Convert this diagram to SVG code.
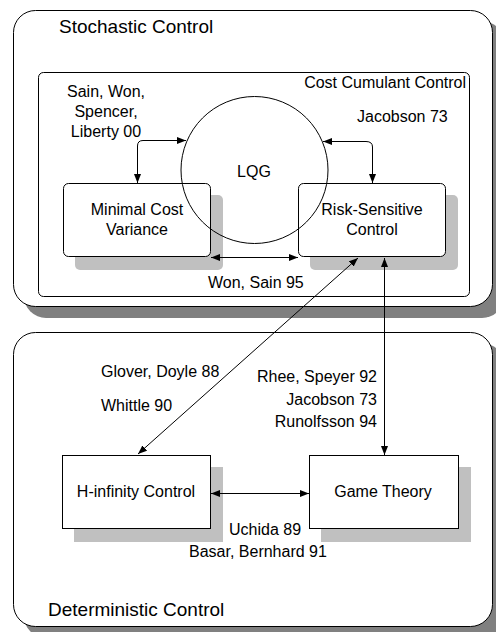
<svg xmlns="http://www.w3.org/2000/svg" width="496" height="632" viewBox="0 0 496 632">
<defs>
<style>
text{font-family:"Liberation Sans",Arial,sans-serif;fill:#000}
.t{font-size:19px}
.l{font-size:16px}
.m{text-anchor:middle}
.e{text-anchor:end}
.box{fill:#fff;stroke:#000;stroke-width:1}
.osh{fill:#808080}
.ish{fill:#c0c0c0}
.c{fill:none;stroke:#000;stroke-width:1;marker-start:url(#a);marker-end:url(#a)}
</style>
<marker id="a" markerUnits="userSpaceOnUse" markerWidth="9" markerHeight="7" refX="9" refY="3.5" orient="auto-start-reverse">
<path d="M0,0 L9,3.5 L0,7 z" fill="#000"/>
</marker>
</defs>
<g id="stochastic">
<rect class="osh" x="24" y="21" width="480" height="297" rx="22"/>
<rect class="box" x="13.5" y="10.5" width="479" height="296" rx="22"/>
<text class="t" x="59" y="33">Stochastic Control</text>
</g>
<g id="deterministic">
<rect class="osh" x="24" y="343" width="480" height="295" rx="22"/>
<rect class="box" x="13.5" y="332.5" width="479" height="294" rx="22"/>
<text class="t" x="48" y="616">Deterministic Control</text>
</g>
<g id="cost-cumulant">
<rect class="box" x="38.5" y="72.5" width="431" height="224" rx="5"/>
<text class="l e" x="466" y="88">Cost Cumulant Control</text>
</g>
<g id="minimal-cost">
<rect class="ish" x="75" y="195" width="148" height="75" rx="5"/>
<rect class="box" x="63.5" y="183.5" width="147" height="73" rx="5"/>
<text class="l m" x="137" y="215">Minimal Cost</text>
<text class="l m" x="137" y="235">Variance</text>
</g>
<g id="risk-sensitive">
<rect class="ish" x="310" y="195" width="148" height="75" rx="5"/>
<rect class="box" x="298.5" y="183.5" width="147" height="73" rx="5"/>
<text class="l m" x="372" y="215">Risk-Sensitive</text>
<text class="l m" x="372" y="235">Control</text>
</g>
<g id="h-infinity">
<rect class="ish" x="74" y="467" width="149" height="75"/>
<rect class="box" x="62.5" y="455.5" width="148" height="73"/>
<text class="l m" x="136" y="497">H-infinity Control</text>
</g>
<g id="game-theory">
<rect class="ish" x="321" y="467" width="150" height="75"/>
<rect class="box" x="309.5" y="455.5" width="149" height="73"/>
<text class="l m" x="383" y="497">Game Theory</text>
</g>
<g id="lqg">
<circle cx="254.5" cy="170" r="73.5" fill="none" stroke="#000" stroke-width="1"/>
<text class="l m" x="254" y="177">LQG</text>
</g>
<g id="connectors">
<path class="c" d="M137.5,183 V146 Q137.5,140.5 143,140.5 H186"/>
<path class="c" d="M323,141.5 H366 Q372.5,141.5 372.5,147 V183"/>
<path class="c" d="M211,257.5 H298"/>
<path class="c" d="M358,258 L138,454"/>
<path class="c" d="M384.5,258 V455"/>
<path class="c" d="M211,493.5 H309"/>
</g>
<g id="labels">
<text class="l m" x="106" y="97">Sain, Won,</text>
<text class="l m" x="106" y="117">Spencer,</text>
<text class="l m" x="106" y="137">Liberty 00</text>
<text class="l" x="357" y="122">Jacobson 73</text>
<text class="l" x="208" y="288">Won, Sain 95</text>
<text class="l" x="101" y="377">Glover, Doyle 88</text>
<text class="l" x="101" y="411">Whittle 90</text>
<text class="l e" x="377" y="382">Rhee, Speyer 92</text>
<text class="l e" x="377" y="405">Jacobson 73</text>
<text class="l e" x="377" y="427">Runolfsson 94</text>
<text class="l" x="229" y="535">Uchida 89</text>
<text class="l" x="189" y="557">Basar, Bernhard 91</text>
</g>
</svg>
